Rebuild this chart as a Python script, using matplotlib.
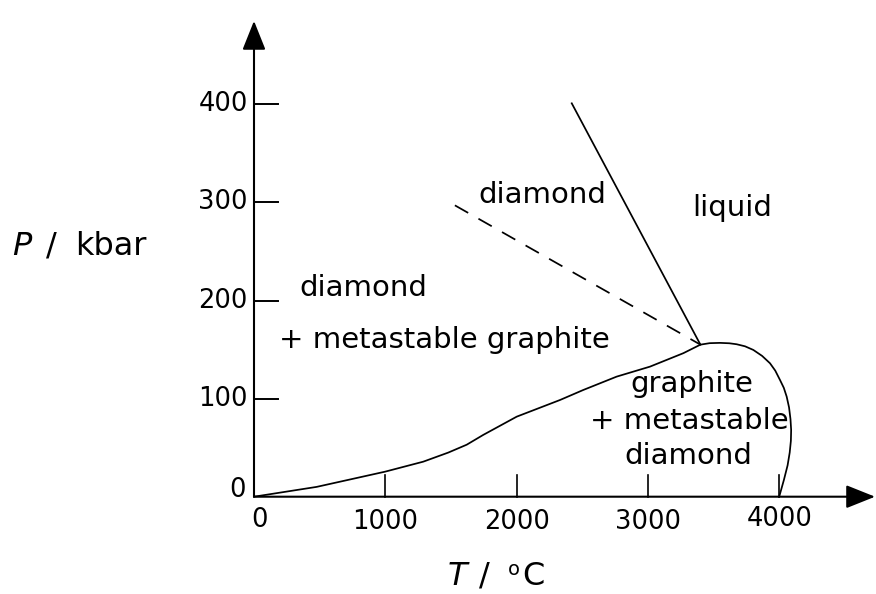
import numpy as np
import matplotlib
matplotlib.use('Agg')
import matplotlib.pyplot as plt

plt.rcParams['font.family'] = ['DejaVu Sans']
plt.rcParams['lines.scale_dashes'] = False

# graphite / diamond boundary, runs from the origin up to the triple point
# and then round the melting loop back down to the T axis
bound_T = [0, 477, 998, 1289, 1480, 1620, 1746, 2001, 2331, 2508, 2762, 3016, 3270, 3400,
           3470, 3549, 3620, 3676, 3740, 3803, 3870, 3930, 3970, 4006, 4035, 4057,
           4075, 4086, 4091, 4089, 4080, 4064, 4036, 4000]
bound_P = [0, 10, 25.5, 35.7, 45, 53, 63, 81.6, 98.6, 108.8, 122.4, 132.6, 146.3, 155,
           156.5, 156.8, 156.4, 155.4, 153.3, 149.6, 143.5, 136, 128.5, 119, 111, 102,
           91, 79, 68, 57, 45, 32, 17.2, 0]

# diamond / liquid line
melt_T = [3400, 2420]
melt_P = [155, 401]

# metastable graphite limit (dashed)
meta_T = [1530, 3400]
meta_P = [297, 155]

xticks = [1000, 2000, 3000, 4000]
xtick_labels = ['1000', '2000', '3000', '4000']
yticks = [100, 200, 300, 400]
ytick_labels = ['100', '200', '300', '400']

# pixel layout: origin at (254, 496.7), 0.1313 px per degC, 0.981 px per kbar
x0, sx = 254.0, 0.1313
y0, sy = 496.7, 0.981
W, H = 876, 594

fig = plt.figure(figsize=(W/100, H/100), dpi=100)
ax = fig.add_axes([0, 0, 1, 1])
ax.set_xlim(-x0/sx, (W - x0)/sx)
ax.set_ylim(-(H - y0)/sy, y0/sy)
ax.axis('off')

# axes with arrow heads
arr = dict(arrowstyle='-|>,head_length=1.0,head_width=0.4', mutation_scale=18,
           color='black', lw=1.5, shrinkA=0, shrinkB=0)
ax.annotate('', xy=(4730, 0), xytext=(0, 0), arrowprops=arr)
ax.annotate('', xy=(0, 485), xytext=(0, 0), arrowprops=arr)

# ticks
for t in xticks:
    ax.plot([t, t], [0, 22], color='black', lw=1.2)
for p in yticks:
    ax.plot([0, 180], [p, p], color='black', lw=1.4)

fs_tick = 18.5
ax.text(45, -11, '0', fontsize=fs_tick, ha='center', va='top')
for t, lab in zip(xticks, xtick_labels):
    ax.text(t, -9 if t == 4000 else -13, lab, fontsize=fs_tick, ha='center', va='top')
ax.text(-65, 7, '0', fontsize=fs_tick, ha='right', va='center')
for p, lab in zip(yticks, ytick_labels):
    ax.text(-46, p, lab, fontsize=fs_tick, ha='right', va='center')

# phase boundaries
ax.plot(bound_T, bound_P, color='black', lw=1.25)
ax.plot(melt_T, melt_P, color='black', lw=1.25)
ax.plot(meta_T, meta_P, color='black', lw=1.25, dashes=(11, 8.5))

# region labels
fs = 21
ax.text(2193, 299.4, 'diamond', fontsize=fs, ha='center', va='baseline')
ax.text(3644, 285.7, 'liquid', fontsize=fs, ha='center', va='baseline')
ax.text(830, 205, 'diamond', fontsize=fs, ha='center', va='baseline')
ax.text(1447, 151.6, '+ metastable graphite', fontsize=fs, ha='center', va='baseline')
ax.text(3332, 107, 'graphite', fontsize=fs, ha='center', va='baseline')
ax.text(3317, 68.7, '+ metastable', fontsize=fs, ha='center', va='baseline')
ax.text(3309, 33.3, 'diamond', fontsize=fs, ha='center', va='baseline')

# axis titles
fs_lab = 23
ax.text(-1845, 246.4, 'P', fontsize=fs_lab, style='italic', ha='left', va='baseline')
ax.text(-1546, 246.4, '/', fontsize=fs_lab, ha='center', va='baseline')
ax.text(-1363, 246.4, 'kbar', fontsize=fs_lab, ha='left', va='baseline')

ax.text(1477, -90, 'T', fontsize=fs_lab, style='italic', ha='left', va='baseline')
ax.text(1752, -90, '/', fontsize=fs_lab, ha='center', va='baseline')
ax.text(1934, -80, 'o', fontsize=14, ha='left', va='baseline')
ax.text(2041, -90, 'C', fontsize=fs_lab, ha='left', va='baseline')

fig.savefig('out.png', dpi=100)
